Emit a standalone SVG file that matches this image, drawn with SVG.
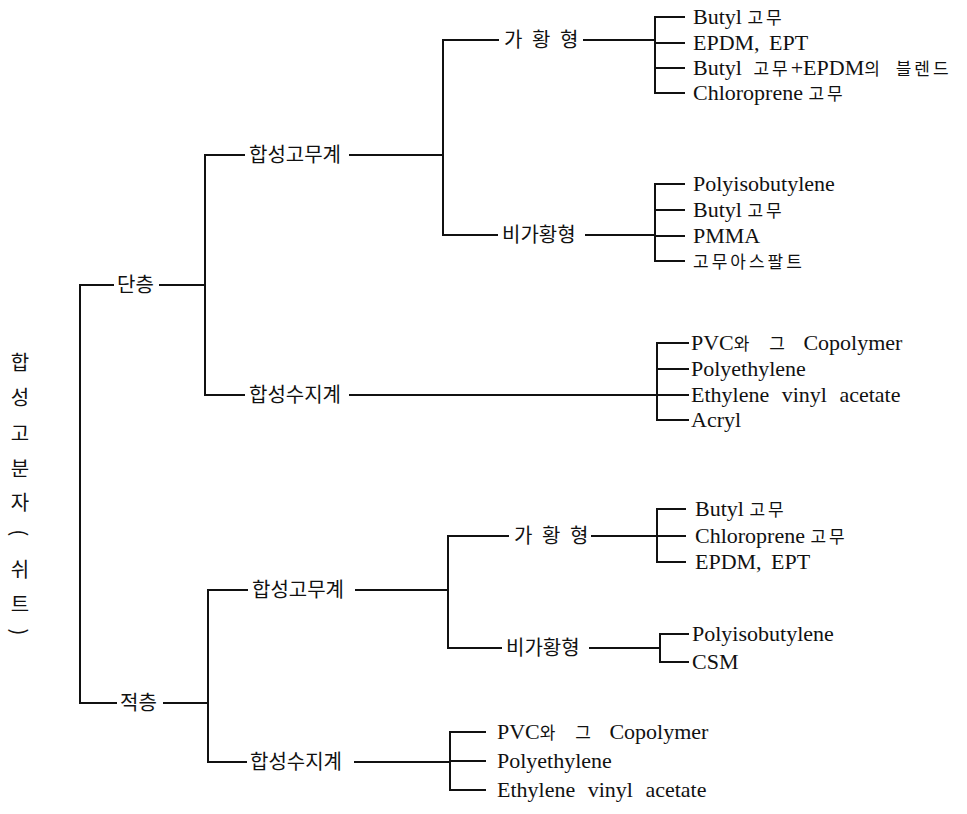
<svg xmlns="http://www.w3.org/2000/svg" width="967" height="814" viewBox="0 0 967 814">
<style>
.c{fill:none;stroke:#111;stroke-width:2;stroke-linecap:square}
.lab{font-family:"Noto Sans CJK KR","Noto Sans",sans-serif;font-size:20px;fill:#111}
.rt{font-family:"Noto Sans CJK KR","Noto Sans",sans-serif;font-size:20px;fill:#111;text-anchor:middle}
.lf{font-family:"Liberation Serif","Noto Sans CJK KR",serif;font-size:22px;fill:#111}
.k{font-family:"Noto Sans CJK KR",sans-serif;font-size:17px;letter-spacing:3px}
</style>
<rect width="967" height="814" fill="#fff"/>
<g id="connectors">
<path class="c" d="M80,285V703M80,285H113M160,285H205M80,703H116M164,703H208"/>
<path class="c" d="M205,155V395M205,155H244M350,155H443M205,395H244M350,395H657"/>
<path class="c" d="M443,40V235M443,40H498M584,40H655M443,235H497M586,235H655"/>
<path class="c" d="M655,17V93M655,17H684M655,43H684M655,68H684M655,93H684"/>
<path class="c" d="M655,184V261M655,184H684M655,210H684M655,236H684M655,261H684"/>
<path class="c" d="M657,343V420M657,343H688M657,369H688M657,395H688M657,420H688"/>
<path class="c" d="M208,590V762M208,590H247M356,590H448M208,762H246M355,762H450"/>
<path class="c" d="M448,536V648M448,536H508M592,536H657M448,648H501M590,648H660"/>
<path class="c" d="M657,509V562M657,509H685M657,536H685M657,562H685"/>
<path class="c" d="M660,634V662M660,634H688M660,662H688"/>
<path class="c" d="M450,732V790M450,732H485M450,761H485M450,790H485"/>
</g>
<g id="root">
<text class="rt" x="20" y="370">합</text>
<text class="rt" x="20" y="405">성</text>
<text class="rt" x="20" y="441">고</text>
<text class="rt" x="20" y="476">분</text>
<text class="rt" x="20" y="510">자</text>
<text class="rt" x="20" y="533" transform="rotate(90 20 533)" dominant-baseline="central">(</text>
<text class="rt" x="20" y="577">쉬</text>
<text class="rt" x="20" y="612">트</text>
<text class="rt" x="20" y="632" transform="rotate(90 20 632)" dominant-baseline="central">)</text>
</g>
<g id="n-dancheung"><text class="lab" x="117" y="292">단층</text></g>
<g id="n-jeokcheung"><text class="lab" x="120" y="710">적층</text></g>
<g id="n-d-rubber"><text class="lab" x="249" y="162">합성고무계</text></g>
<g id="n-d-resin"><text class="lab" x="249" y="402">합성수지계</text></g>
<g id="n-d-vulc"><text class="lab" x="504 532 560" y="47">가황형</text></g>
<g id="n-d-nonvulc"><text class="lab" x="502" y="242">비가황형</text></g>
<g id="n-j-rubber"><text class="lab" x="252" y="597">합성고무계</text></g>
<g id="n-j-resin"><text class="lab" x="250" y="769">합성수지계</text></g>
<g id="n-j-vulc"><text class="lab" x="514 542 570" y="543">가황형</text></g>
<g id="n-j-nonvulc"><text class="lab" x="506" y="655">비가황형</text></g>
<g id="leaves-d-vulc">
<text class="lf" x="693" y="24">Butyl <tspan class="k">고무</tspan></text>
<text class="lf" x="693" y="50" word-spacing="4">EPDM, EPT</text>
<text class="lf" x="693" y="75" word-spacing="6">Butyl <tspan class="k">고무</tspan>+EPDM<tspan class="k">의 블렌드</tspan></text>
<text class="lf" x="693" y="100">Chloroprene <tspan class="k">고무</tspan></text>
</g>
<g id="leaves-d-nonvulc">
<text class="lf" x="693" y="191">Polyisobutylene</text>
<text class="lf" x="693" y="217">Butyl <tspan class="k">고무</tspan></text>
<text class="lf" x="693" y="243">PMMA</text>
<text class="lf" x="693" y="268"><tspan class="k">고무아스팔트</tspan></text>
</g>
<g id="leaves-d-resin">
<text class="lf" x="691" y="350" word-spacing="10">PVC<tspan class="k">와 그</tspan> Copolymer</text>
<text class="lf" x="691" y="376">Polyethylene</text>
<text class="lf" x="691" y="402" word-spacing="7">Ethylene vinyl acetate</text>
<text class="lf" x="691" y="427">Acryl</text>
</g>
<g id="leaves-j-vulc">
<text class="lf" x="695" y="516">Butyl <tspan class="k">고무</tspan></text>
<text class="lf" x="695" y="543">Chloroprene <tspan class="k">고무</tspan></text>
<text class="lf" x="695" y="569" word-spacing="4">EPDM, EPT</text>
</g>
<g id="leaves-j-nonvulc">
<text class="lf" x="692" y="641">Polyisobutylene</text>
<text class="lf" x="692" y="669">CSM</text>
</g>
<g id="leaves-j-resin">
<text class="lf" x="497" y="739" word-spacing="10">PVC<tspan class="k">와 그</tspan> Copolymer</text>
<text class="lf" x="497" y="768">Polyethylene</text>
<text class="lf" x="497" y="797" word-spacing="7">Ethylene vinyl acetate</text>
</g>
</svg>
